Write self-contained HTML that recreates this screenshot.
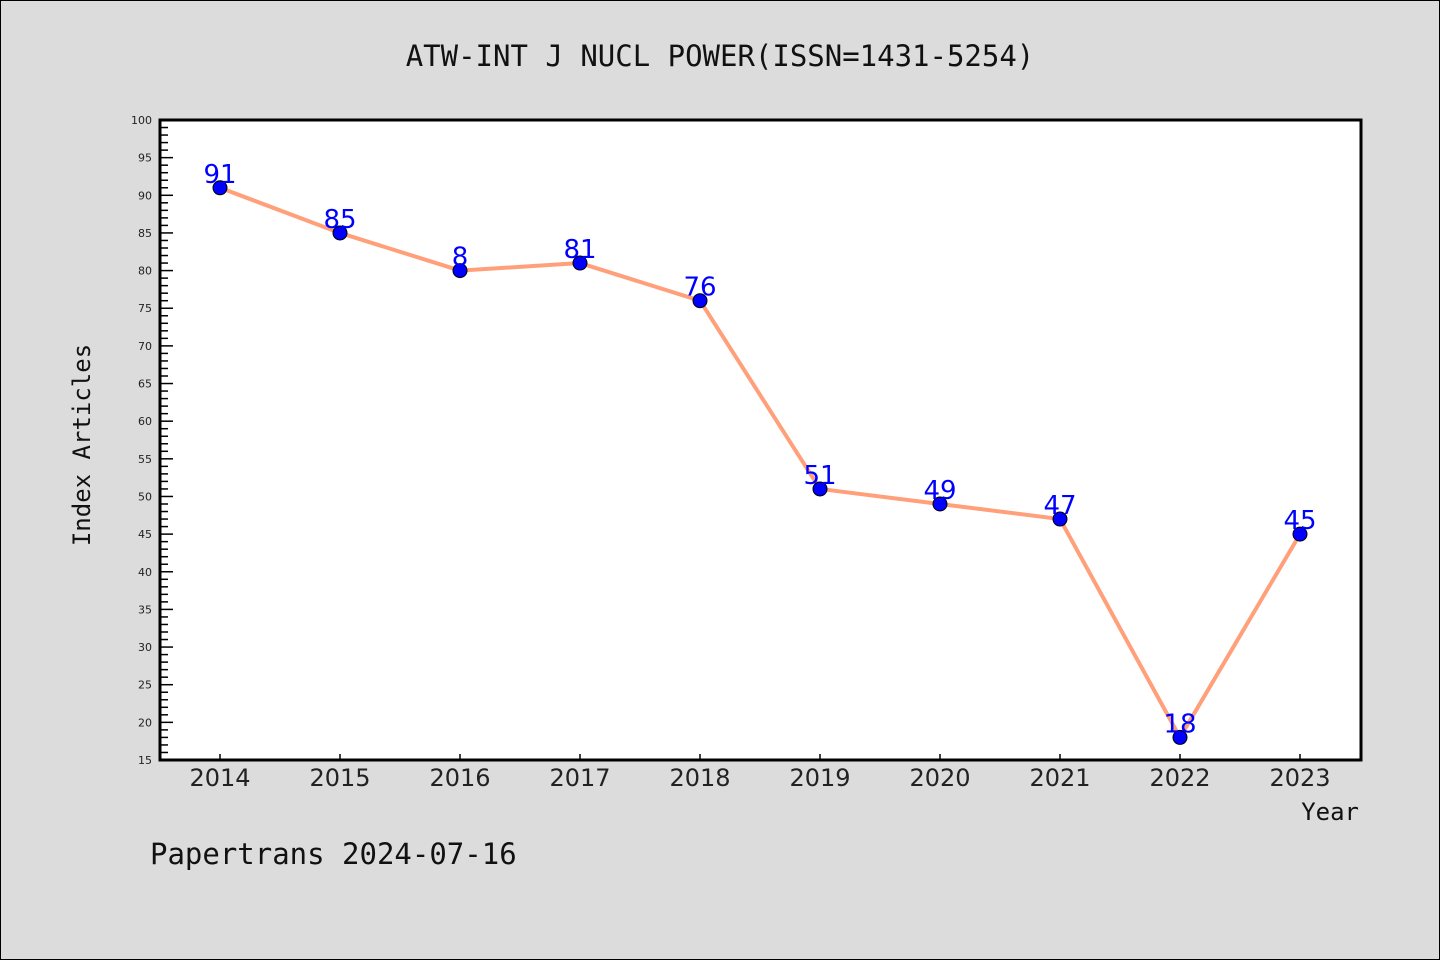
<!DOCTYPE html>
<html><head><meta charset="utf-8"><style>
body{margin:0;background:#dcdcdc;}
svg{display:block;font-family:"DejaVu Sans Mono","Liberation Mono",monospace;}
</style></head><body>
<svg width="1440" height="960" viewBox="0 0 1440 960">
<rect x="0.5" y="0.5" width="1439" height="959" fill="#dcdcdc" stroke="#000"/>
<text x="720" y="66" text-anchor="middle" font-size="29" fill="#111">ATW-INT J NUCL POWER(ISSN=1431-5254)</text>
<rect x="160" y="120" width="1201" height="640" fill="#fff"/>
<g id="yaxis"></g>
<g id="xaxis"></g>
<g id="series"></g>
<rect x="160" y="120" width="1201" height="640" fill="none" stroke="#000" stroke-width="3"/>
<text transform="translate(90,445) rotate(-90)" text-anchor="middle" font-size="24" fill="#111">Index Articles</text>
<text x="1359" y="820" text-anchor="end" font-size="24" fill="#111">Year</text>
<text x="150" y="864" font-size="29" fill="#111">Papertrans 2024-07-16</text>
</svg>
<script>
const years = ["2014","2015","2016","2017","2018","2019","2020","2021","2022","2023"];
const values = [91,85,80,81,76,51,49,47,18,45];
const valueLabels = ["91","85","8","81","76","51","49","47","18","45"];
const yTicks = [15,20,25,30,35,40,45,50,55,60,65,70,75,80,85,90,95,100];
const NS="http://www.w3.org/2000/svg";
const yMin=15,yMax=100,plotTop=120,plotBot=760;
function y(v){return plotBot-(v-yMin)/(yMax-yMin)*(plotBot-plotTop);}
function x(i){return 220+i*120;}
function mk(t,a,p){const e=document.createElementNS(NS,t);for(const k in a)e.setAttribute(k,a[k]);p.appendChild(e);return e;}
const ya=document.getElementById('yaxis');
for(let v=yMin;v<=yMax;v++){
  const major=v%5===0;
  const l=mk('line',{x1:160,x2:major?173:168,y1:y(v),y2:y(v),stroke:'#000','stroke-width':1.5},ya);
  
  
}
yTicks.forEach(v=>{
  const t=mk('text',{x:152,y:y(v)+4,'text-anchor':'end','font-size':11,fill:'#222','font-family':'DejaVu Sans, sans-serif'},ya);
  t.textContent=v;
  
  
});
const xa=document.getElementById('xaxis');
years.forEach((yr,i)=>{
  const l=mk('line',{x1:x(i),x2:x(i),y1:760,y2:754,stroke:'#000','stroke-width':1.5},xa);
  
  
  const t=mk('text',{x:x(i),y:786,'text-anchor':'middle','font-size':24,fill:'#222','font-family':'DejaVu Sans, sans-serif'},xa);
  t.textContent=yr;
  
  
});
const s=document.getElementById('series');
const pl=mk('polyline',{points:values.map((v,i)=>x(i)+','+y(v)).join(' '),fill:'none',stroke:'#ffa07a','stroke-width':4},s);


values.forEach((v,i)=>{
  const c=mk('circle',{cx:x(i),cy:y(v),r:7,fill:'#0000ff',stroke:'#000','stroke-width':1},s);
  
  
  const t=mk('text',{x:x(i),y:y(v)-5,'text-anchor':'middle','font-size':26,fill:'#0000ff','font-family':'DejaVu Sans, sans-serif'},s);
  t.textContent=valueLabels[i];
  
  
});
</script>
</body></html>
